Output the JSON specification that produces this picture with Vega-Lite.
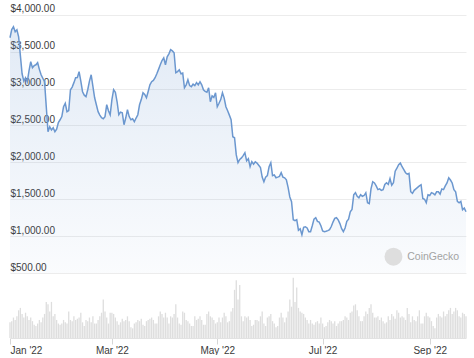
{
"$schema": "https://vega.github.io/schema/vega-lite/v6.json",
"padding": {"left": 7, "top": 0, "right": 11, "bottom": 0},
"background": "white",
"config": {"view": {"stroke": null}, "font": "Liberation Sans", "concat": {"spacing": 0}},
"data": {"values": [
{"date":"2022-01-01","price":3688,"volume":13},{"date":"2022-01-02","price":3800,"volume":14},{"date":"2022-01-03","price":3837,"volume":17},{"date":"2022-01-04","price":3770,"volume":15},{"date":"2022-01-05","price":3797,"volume":18},{"date":"2022-01-06","price":3700,"volume":23},{"date":"2022-01-07","price":3450,"volume":25},{"date":"2022-01-08","price":3200,"volume":20},{"date":"2022-01-09","price":3100,"volume":17},{"date":"2022-01-10","price":3146,"volume":21},
{"date":"2022-01-11","price":3092,"volume":18},{"date":"2022-01-12","price":3240,"volume":15},{"date":"2022-01-13","price":3363,"volume":17},{"date":"2022-01-14","price":3282,"volume":14},{"date":"2022-01-15","price":3310,"volume":11},{"date":"2022-01-16","price":3322,"volume":10},{"date":"2022-01-17","price":3350,"volume":12},{"date":"2022-01-18","price":3260,"volume":15},{"date":"2022-01-19","price":3187,"volume":13},{"date":"2022-01-20","price":3140,"volume":17},
{"date":"2022-01-21","price":3092,"volume":20},{"date":"2022-01-22","price":2753,"volume":30},{"date":"2022-01-23","price":2415,"volume":28},{"date":"2022-01-24","price":2482,"volume":22},{"date":"2022-01-25","price":2440,"volume":30},{"date":"2022-01-26","price":2469,"volume":18},{"date":"2022-01-27","price":2415,"volume":20},{"date":"2022-01-28","price":2450,"volume":15},{"date":"2022-01-29","price":2540,"volume":12},{"date":"2022-01-30","price":2577,"volume":11},{"date":"2022-01-31","price":2620,"volume":12},
{"date":"2022-02-01","price":2753,"volume":15},{"date":"2022-02-02","price":2800,"volume":13},{"date":"2022-02-03","price":2686,"volume":12},{"date":"2022-02-04","price":2700,"volume":22},{"date":"2022-02-05","price":2984,"volume":15},{"date":"2022-02-06","price":3020,"volume":14},{"date":"2022-02-07","price":3080,"volume":18},{"date":"2022-02-08","price":3146,"volume":15},{"date":"2022-02-09","price":3150,"volume":16},{"date":"2022-02-10","price":3228,"volume":17},
{"date":"2022-02-11","price":3100,"volume":21},{"date":"2022-02-12","price":2957,"volume":13},{"date":"2022-02-13","price":2910,"volume":10},{"date":"2022-02-14","price":2889,"volume":15},{"date":"2022-02-15","price":2984,"volume":14},{"date":"2022-02-16","price":3100,"volume":17},{"date":"2022-02-17","price":3187,"volume":13},{"date":"2022-02-18","price":3030,"volume":18},{"date":"2022-02-19","price":2875,"volume":12},{"date":"2022-02-20","price":2780,"volume":12},
{"date":"2022-02-21","price":2686,"volume":15},{"date":"2022-02-22","price":2640,"volume":18},{"date":"2022-02-23","price":2604,"volume":21},{"date":"2022-02-24","price":2590,"volume":32},{"date":"2022-02-25","price":2618,"volume":22},{"date":"2022-02-26","price":2781,"volume":17},{"date":"2022-02-27","price":2700,"volume":12},{"date":"2022-02-28","price":2645,"volume":21},
{"date":"2022-03-01","price":2850,"volume":21},{"date":"2022-03-02","price":2984,"volume":20},{"date":"2022-03-03","price":2950,"volume":17},{"date":"2022-03-04","price":2821,"volume":14},{"date":"2022-03-05","price":2645,"volume":11},{"date":"2022-03-06","price":2680,"volume":13},{"date":"2022-03-07","price":2672,"volume":16},{"date":"2022-03-08","price":2510,"volume":14},{"date":"2022-03-09","price":2600,"volume":15},{"date":"2022-03-10","price":2713,"volume":18},
{"date":"2022-03-11","price":2620,"volume":14},{"date":"2022-03-12","price":2577,"volume":9},{"date":"2022-03-13","price":2590,"volume":8},{"date":"2022-03-14","price":2550,"volume":12},{"date":"2022-03-15","price":2600,"volume":13},{"date":"2022-03-16","price":2645,"volume":15},{"date":"2022-03-17","price":2780,"volume":14},{"date":"2022-03-18","price":2850,"volume":16},{"date":"2022-03-19","price":2943,"volume":11},{"date":"2022-03-20","price":2920,"volume":10},
{"date":"2022-03-21","price":2875,"volume":14},{"date":"2022-03-22","price":2960,"volume":15},{"date":"2022-03-23","price":3050,"volume":16},{"date":"2022-03-24","price":3092,"volume":17},{"date":"2022-03-25","price":3110,"volume":15},{"date":"2022-03-26","price":3146,"volume":12},{"date":"2022-03-27","price":3200,"volume":12},{"date":"2022-03-28","price":3260,"volume":18},{"date":"2022-03-29","price":3322,"volume":22},{"date":"2022-03-30","price":3380,"volume":20},{"date":"2022-03-31","price":3417,"volume":17},
{"date":"2022-04-01","price":3322,"volume":21},{"date":"2022-04-02","price":3431,"volume":17},{"date":"2022-04-03","price":3470,"volume":12},{"date":"2022-04-04","price":3526,"volume":18},{"date":"2022-04-05","price":3510,"volume":17},{"date":"2022-04-06","price":3485,"volume":20},{"date":"2022-04-07","price":3214,"volume":28},{"date":"2022-04-08","price":3230,"volume":17},{"date":"2022-04-09","price":3254,"volume":12},{"date":"2022-04-10","price":3200,"volume":11},
{"date":"2022-04-11","price":3210,"volume":22},{"date":"2022-04-12","price":3011,"volume":21},{"date":"2022-04-13","price":3050,"volume":15},{"date":"2022-04-14","price":3119,"volume":14},{"date":"2022-04-15","price":3040,"volume":12},{"date":"2022-04-16","price":3024,"volume":10},{"date":"2022-04-17","price":3060,"volume":10},{"date":"2022-04-18","price":3040,"volume":18},{"date":"2022-04-19","price":3080,"volume":15},{"date":"2022-04-20","price":3050,"volume":16},
{"date":"2022-04-21","price":3092,"volume":18},{"date":"2022-04-22","price":3050,"volume":15},{"date":"2022-04-23","price":2984,"volume":11},{"date":"2022-04-24","price":2960,"volume":11},{"date":"2022-04-25","price":2950,"volume":20},{"date":"2022-04-26","price":3011,"volume":22},{"date":"2022-04-27","price":2821,"volume":18},{"date":"2022-04-28","price":2900,"volume":17},{"date":"2022-04-29","price":2880,"volume":15},{"date":"2022-04-30","price":2943,"volume":12},
{"date":"2022-05-01","price":2753,"volume":13},{"date":"2022-05-02","price":2800,"volume":17},{"date":"2022-05-03","price":2850,"volume":13},{"date":"2022-05-04","price":2943,"volume":17},{"date":"2022-05-05","price":2870,"volume":21},{"date":"2022-05-06","price":2753,"volume":18},{"date":"2022-05-07","price":2700,"volume":13},{"date":"2022-05-08","price":2640,"volume":14},{"date":"2022-05-09","price":2577,"volume":22},{"date":"2022-05-10","price":2347,"volume":25},
{"date":"2022-05-11","price":2333,"volume":40},{"date":"2022-05-12","price":2100,"volume":48},{"date":"2022-05-13","price":1995,"volume":32},{"date":"2022-05-14","price":2040,"volume":44},{"date":"2022-05-15","price":2060,"volume":18},{"date":"2022-05-16","price":2090,"volume":14},{"date":"2022-05-17","price":2130,"volume":18},{"date":"2022-05-18","price":2020,"volume":17},{"date":"2022-05-19","price":2050,"volume":18},{"date":"2022-05-20","price":1940,"volume":15},
{"date":"2022-05-21","price":2010,"volume":10},{"date":"2022-05-22","price":1975,"volume":11},{"date":"2022-05-23","price":2008,"volume":15},{"date":"2022-05-24","price":1990,"volume":15},{"date":"2022-05-25","price":1960,"volume":14},{"date":"2022-05-26","price":1930,"volume":18},{"date":"2022-05-27","price":1800,"volume":22},{"date":"2022-05-28","price":1737,"volume":12},{"date":"2022-05-29","price":1800,"volume":10},{"date":"2022-05-30","price":1820,"volume":17},{"date":"2022-05-31","price":1940,"volume":18},
{"date":"2022-06-01","price":1995,"volume":20},{"date":"2022-06-02","price":1820,"volume":14},{"date":"2022-06-03","price":1830,"volume":12},{"date":"2022-06-04","price":1791,"volume":9},{"date":"2022-06-05","price":1800,"volume":10},{"date":"2022-06-06","price":1810,"volume":17},{"date":"2022-06-07","price":1859,"volume":21},{"date":"2022-06-08","price":1800,"volume":17},{"date":"2022-06-09","price":1790,"volume":13},{"date":"2022-06-10","price":1764,"volume":17},
{"date":"2022-06-11","price":1660,"volume":22},{"date":"2022-06-12","price":1530,"volume":32},{"date":"2022-06-13","price":1466,"volume":26},{"date":"2022-06-14","price":1222,"volume":50},{"date":"2022-06-15","price":1210,"volume":30},{"date":"2022-06-16","price":1222,"volume":42},{"date":"2022-06-17","price":1080,"volume":25},{"date":"2022-06-18","price":1100,"volume":22},{"date":"2022-06-19","price":1019,"volume":21},{"date":"2022-06-20","price":1120,"volume":20},
{"date":"2022-06-21","price":1127,"volume":17},{"date":"2022-06-22","price":1110,"volume":15},{"date":"2022-06-23","price":1060,"volume":12},{"date":"2022-06-24","price":1060,"volume":15},{"date":"2022-06-25","price":1140,"volume":12},{"date":"2022-06-26","price":1230,"volume":11},{"date":"2022-06-27","price":1249,"volume":13},{"date":"2022-06-28","price":1200,"volume":14},{"date":"2022-06-29","price":1190,"volume":12},{"date":"2022-06-30","price":1140,"volume":17},
{"date":"2022-07-01","price":1070,"volume":12},{"date":"2022-07-02","price":1060,"volume":9},{"date":"2022-07-03","price":1065,"volume":10},{"date":"2022-07-04","price":1075,"volume":13},{"date":"2022-07-05","price":1087,"volume":15},{"date":"2022-07-06","price":1130,"volume":14},{"date":"2022-07-07","price":1190,"volume":12},{"date":"2022-07-08","price":1240,"volume":14},{"date":"2022-07-09","price":1249,"volume":10},{"date":"2022-07-10","price":1220,"volume":12},
{"date":"2022-07-11","price":1170,"volume":14},{"date":"2022-07-12","price":1100,"volume":14},{"date":"2022-07-13","price":1060,"volume":15},{"date":"2022-07-14","price":1110,"volume":18},{"date":"2022-07-15","price":1200,"volume":17},{"date":"2022-07-16","price":1230,"volume":15},{"date":"2022-07-17","price":1330,"volume":21},{"date":"2022-07-18","price":1360,"volume":22},{"date":"2022-07-19","price":1560,"volume":27},{"date":"2022-07-20","price":1588,"volume":28},
{"date":"2022-07-21","price":1540,"volume":23},{"date":"2022-07-22","price":1520,"volume":18},{"date":"2022-07-23","price":1561,"volume":14},{"date":"2022-07-24","price":1540,"volume":14},{"date":"2022-07-25","price":1550,"volume":18},{"date":"2022-07-26","price":1588,"volume":22},{"date":"2022-07-27","price":1452,"volume":20},{"date":"2022-07-28","price":1440,"volume":25},{"date":"2022-07-29","price":1640,"volume":28},{"date":"2022-07-30","price":1737,"volume":21},{"date":"2022-07-31","price":1720,"volume":17},
{"date":"2022-08-01","price":1680,"volume":17},{"date":"2022-08-02","price":1630,"volume":18},{"date":"2022-08-03","price":1640,"volume":15},{"date":"2022-08-04","price":1620,"volume":17},{"date":"2022-08-05","price":1628,"volume":14},{"date":"2022-08-06","price":1700,"volume":12},{"date":"2022-08-07","price":1723,"volume":13},{"date":"2022-08-08","price":1700,"volume":18},{"date":"2022-08-09","price":1780,"volume":15},{"date":"2022-08-10","price":1690,"volume":20},
{"date":"2022-08-11","price":1723,"volume":18},{"date":"2022-08-12","price":1880,"volume":16},{"date":"2022-08-13","price":1920,"volume":23},{"date":"2022-08-14","price":1968,"volume":21},{"date":"2022-08-15","price":1990,"volume":17},{"date":"2022-08-16","price":1940,"volume":18},{"date":"2022-08-17","price":1900,"volume":17},{"date":"2022-08-18","price":1859,"volume":15},{"date":"2022-08-19","price":1840,"volume":25},{"date":"2022-08-20","price":1850,"volume":20},
{"date":"2022-08-21","price":1602,"volume":13},{"date":"2022-08-22","price":1580,"volume":18},{"date":"2022-08-23","price":1620,"volume":15},{"date":"2022-08-24","price":1640,"volume":14},{"date":"2022-08-25","price":1660,"volume":18},{"date":"2022-08-26","price":1680,"volume":23},{"date":"2022-08-27","price":1696,"volume":12},{"date":"2022-08-28","price":1510,"volume":12},{"date":"2022-08-29","price":1500,"volume":18},{"date":"2022-08-30","price":1452,"volume":21},{"date":"2022-08-31","price":1561,"volume":18},
{"date":"2022-09-01","price":1550,"volume":17},{"date":"2022-09-02","price":1590,"volume":14},{"date":"2022-09-03","price":1580,"volume":10},{"date":"2022-09-04","price":1560,"volume":8},{"date":"2022-09-05","price":1600,"volume":17},{"date":"2022-09-06","price":1602,"volume":20},{"date":"2022-09-07","price":1570,"volume":18},{"date":"2022-09-08","price":1640,"volume":17},{"date":"2022-09-09","price":1630,"volume":22},{"date":"2022-09-10","price":1680,"volume":18},
{"date":"2022-09-11","price":1720,"volume":20},{"date":"2022-09-12","price":1791,"volume":23},{"date":"2022-09-13","price":1760,"volume":25},{"date":"2022-09-14","price":1720,"volume":20},{"date":"2022-09-15","price":1628,"volume":22},{"date":"2022-09-16","price":1600,"volume":25},{"date":"2022-09-17","price":1470,"volume":23},{"date":"2022-09-18","price":1452,"volume":18},{"date":"2022-09-19","price":1470,"volume":17},{"date":"2022-09-20","price":1357,"volume":21},
{"date":"2022-09-21","price":1380,"volume":20},{"date":"2022-09-22","price":1330,"volume":18}
]},
"vconcat": [
{
"width": 456, "height": 273,
"layer": [
{"mark": {"type": "area", "color": {"gradient": "linear", "x1": 0, "y1": 0, "x2": 0, "y2": 1, "stops": [{"offset": 0, "color": "rgba(107,151,207,0.20)"}, {"offset": 1, "color": "rgba(107,151,207,0.03)"}]}},
 "encoding": {
  "x": {"field": "date", "type": "temporal", "scale": {"type": "utc", "domain": [{"year": 2022, "month": 1, "date": 1, "utc": true}, {"year": 2022, "month": 9, "date": 22, "utc": true}], "nice": false, "padding": 0}, "axis": null},
  "y": {"field": "price", "type": "quantitative", "scale": {"domain": [500, 4200], "nice": false, "zero": false},
   "axis": {"title": null, "values": [500, 1000, 1500, 2000, 2500, 3000, 3500, 4000], "tickCount": 20, "format": "$,.2f", "orient": "left", "labelAlign": "left", "labelBaseline": "bottom", "labelPadding": 0, "labelOffset": -1, "labelOverlap": false, "labelBound": false, "ticks": false, "domain": false, "grid": true, "gridColor": "#ececec", "gridWidth": 1, "labelColor": "#3a3a3a", "labelFontSize": 10}},
  "y2": {"datum": 500}
 }},
{"mark": {"type": "line", "color": "#6b97cf", "strokeWidth": 1.5},
 "encoding": {
  "x": {"field": "date", "type": "temporal"},
  "y": {"field": "price", "type": "quantitative"}
 }},
{"data": {"values": [{"label": "CoinGecko"}]},
 "mark": {"type": "point", "filled": true, "color": "#dedede", "size": 320, "opacity": 1},
 "encoding": {
  "x": {"datum": {"year": 2022, "month": 8, "date": 11, "utc": true}, "type": "temporal"},
  "y": {"datum": 721, "type": "quantitative"}
 }},
{"data": {"values": [{"label": "CoinGecko"}]},
 "mark": {"type": "text", "align": "left", "baseline": "middle", "color": "#a3a3a3", "fontSize": 10.5},
 "encoding": {
  "text": {"field": "label"},
  "x": {"datum": {"year": 2022, "month": 8, "date": 19, "utc": true}, "type": "temporal"},
  "y": {"datum": 721, "type": "quantitative"}
 }}
]
},
{
"width": 456, "height": 65,
"mark": {"type": "bar", "color": "#dedede", "size": 1.3},
"encoding": {
 "x": {"field": "date", "type": "temporal", "scale": {"type": "utc", "domain": [{"year": 2022, "month": 1, "date": 1, "utc": true}, {"year": 2022, "month": 9, "date": 22, "utc": true}], "nice": false, "padding": 0},
  "axis": {"title": null, "values": [{"year": 2022, "month": 1, "date": 1, "utc": true}, {"year": 2022, "month": 3, "date": 1, "utc": true}, {"year": 2022, "month": 5, "date": 1, "utc": true}, {"year": 2022, "month": 7, "date": 1, "utc": true}, {"year": 2022, "month": 9, "date": 1, "utc": true}], "tickCount": 20, "format": "%b '%y", "labelFlush": true, "labelFontSize": 10, "labelColor": "#3a3a3a", "tickColor": "#d6d6d6", "tickSize": 6, "domainColor": "#e2e2e2", "grid": false, "labelPadding": 1}},
 "y": {"field": "volume", "type": "quantitative", "scale": {"domain": [0, 54]}, "axis": null}
}
}
]
}
